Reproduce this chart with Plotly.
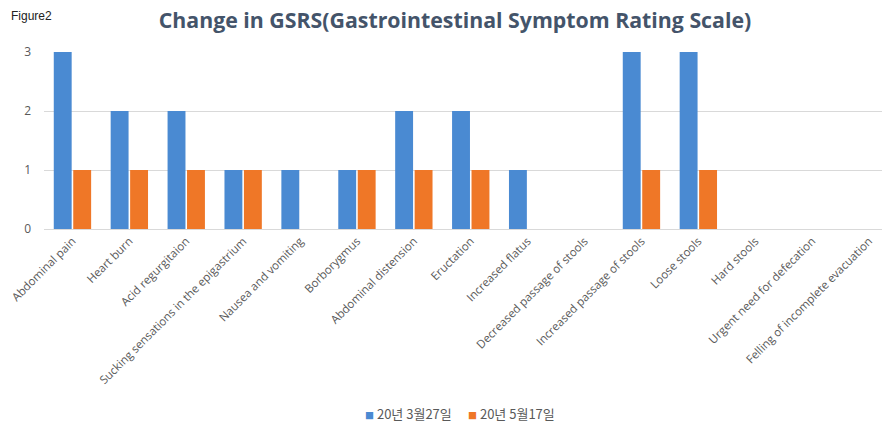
import plotly.graph_objects as go

categories = ["Abdominal pain", "Heart burn", "Acid regurgitaion",
              "Sucking sensations in the epigastrium", "Nausea and vomiting",
              "Borborygmus", "Abdominal distension", "Eructation",
              "Increased flatus", "Decreased passage of stools",
              "Increased passage of stools", "Loose stools", "Hard stools",
              "Urgent need for defecation", "Felling of incomplete evacuation"]
series1_name = "20년 3월27일"
series2_name = "20년 5월17일"
series1 = [3, 2, 2, 1, 1, 1, 2, 2, 1, 0, 3, 3, 0, 0, 0]
series2 = [1, 1, 1, 1, 0, 1, 1, 1, 0, 0, 1, 1, 0, 0, 0]
y_ticks = [0, 1, 2, 3]

BLUE = "#4A8AD2"
ORANGE = "#EF7727"

W, H = 882, 424
L, R, T, B = 44, 0, 52, 195
plot_w = W - L - R
plot_h = H - T - B
cat_px = 56.9

fig = go.Figure()
fig.add_trace(go.Bar(x=categories, y=series1, name=series1_name, showlegend=False,
                     marker=dict(color=BLUE, line=dict(width=0))))
fig.add_trace(go.Bar(x=categories, y=series2, name=series2_name, showlegend=False,
                     marker=dict(color=ORANGE, line=dict(width=0))))

fig.update_layout(
    width=W, height=H,
    margin=dict(l=L, r=R, t=T, b=B, autoexpand=False),
    paper_bgcolor="white", plot_bgcolor="white",
    barmode="group", bargap=0.316, bargroupgap=0.08,
    font=dict(family="Open Sans, Liberation Sans, sans-serif", color="#595959", size=11),
    title=dict(text="<b>Change in GSRS(Gastrointestinal Symptom Rating Scale)</b>",
               x=455 / W, xanchor="center", y=1 - 21 / H, yanchor="middle",
               font=dict(size=21.3, color="#44546A", family="Open Sans, sans-serif")),
    showlegend=False,
)
fig.update_xaxes(tickangle=-45, showgrid=False, showline=True, linecolor="#D9D9D9",
                 ticks="", automargin=False, range=[-0.5, -0.5 + plot_w / cat_px],
                 tickfont=dict(size=11.5, color="#595959"))
fig.update_yaxes(range=[0, 3], tickvals=y_ticks, showgrid=True, gridcolor="#D9D9D9",
                 zeroline=False, showline=False, ticks="", automargin=False,
                 ticklabelstandoff=12,
                 tickfont=dict(size=12, color="#595959"))
fig.add_annotation(text="Figure2", xref="paper", yref="paper",
                   x=-(L - 9) / plot_w, y=1 + (T - 16) / plot_h, xanchor="left",
                   yanchor="middle", showarrow=False,
                   font=dict(size=12, color="#222222", family="Liberation Sans, Arial"))

# legend (bottom centre), drawn as text with coloured square swatches
legend_items = [(series1_name, BLUE, 363), (series2_name, ORANGE, 466)]
for name, col, px in legend_items:
    fig.add_annotation(
        text=f"<span style='color:{col};font-size:9px'>■</span> {name}",
        xref="paper", yref="paper", x=(px - L) / plot_w, y=-(413 - T - plot_h) / plot_h,
        xanchor="left", yanchor="middle", showarrow=False,
        font=dict(size=13, color="#595959", family="Noto Sans CJK KR"))

fig.write_html("out.html", config={"displayModeBar": False},
               post_script="document.body.style.margin='0';document.body.style.overflow='hidden';")
